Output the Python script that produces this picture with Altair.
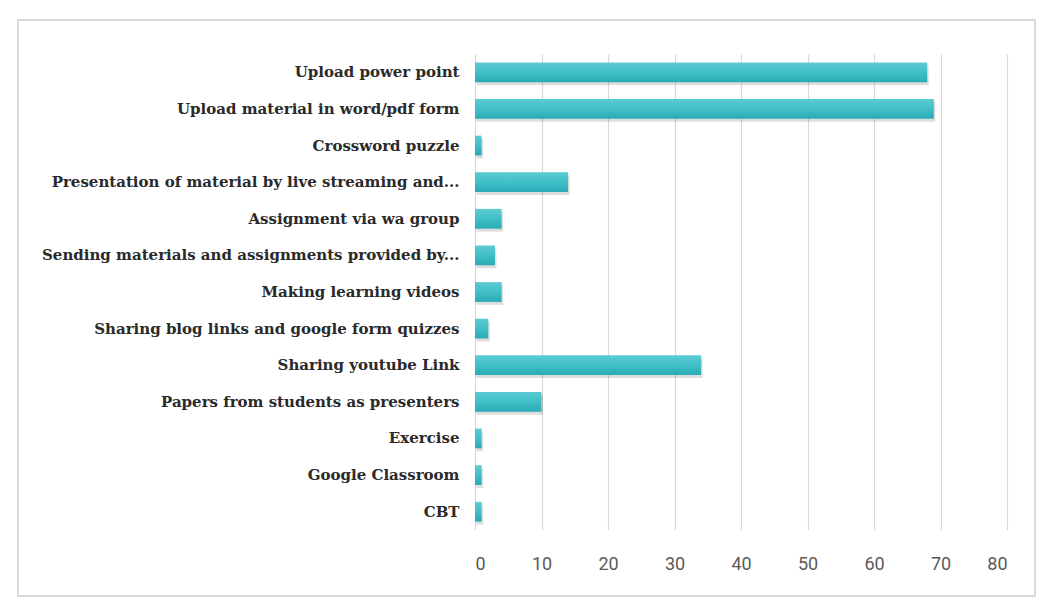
import altair as alt
import pandas as pd

categories = [
    "Upload power point",
    "Upload material in word/pdf form",
    "Crossword puzzle",
    "Presentation of material by live streaming and...",
    "Assignment via wa group",
    "Sending materials and assignments provided by...",
    "Making learning videos",
    "Sharing blog links and google form quizzes",
    "Sharing youtube Link",
    "Papers from students as presenters",
    "Exercise",
    "Google Classroom",
    "CBT",
]
values = [68, 69, 1, 14, 4, 3, 4, 2, 34, 10, 1, 1, 1]
x_ticks = [0, 10, 20, 30, 40, 50, 60, 70, 80]

df = pd.DataFrame({"category": categories, "value": values})

W, H = 532, 476

x_enc = alt.X(
    "value:Q",
    scale=alt.Scale(domain=[0, 80], nice=False),
    axis=alt.Axis(
        values=x_ticks,
        title=None,
        domain=False,
        ticks=False,
        grid=True,
        gridColor="#d9d9d9",
        gridWidth=1.2,
        labelFont="Liberation Sans Narrow, Roboto, sans-serif",
        labelFontSize=18,
        labelColor="#5a5a5a",
        labelPadding=25,
    ),
)
y_enc = alt.Y(
    "category:N",
    sort=categories,
    scale=alt.Scale(paddingInner=0.46, paddingOuter=0.23),
    axis=alt.Axis(
        title=None,
        domain=False,
        ticks=False,
        labelFont="DejaVu Serif",
        labelFontSize=15,
        labelFontWeight="bold",
        labelColor="#2a2a2a",
        labelPadding=16,
        labelLimit=600,
    ),
)

base = alt.Chart(df)

frame = base.mark_rect(fill=None, stroke="#d9d9d9", strokeWidth=2).encode(
    x=alt.value(-457), x2=alt.value(560), y=alt.value(-34), y2=alt.value(542)
).transform_filter(alt.datum.category == "CBT")

shadow = base.mark_bar(color="#000000", opacity=0.13, xOffset=1.5, yOffset=3).encode(
    x=x_enc, y=y_enc
)

bars = base.mark_bar(
    color=alt.Gradient(
        gradient="linear",
        x1=0, x2=0, y1=0, y2=1,
        stops=[
            alt.GradientStop(color="#5ccbd2", offset=0),
            alt.GradientStop(color="#40bfc8", offset=0.5),
            alt.GradientStop(color="#2aaab4", offset=1),
        ],
    )
).encode(x=x_enc, y=y_enc)

chart = (
    alt.layer(frame, shadow, bars)
    .properties(
        width=W,
        height=H,
        autosize=alt.AutoSizeParams(type="none"),
        padding={"left": 467, "top": 46, "right": 30, "bottom": 68},
        background="#ffffff",
    )
    .configure_view(stroke=None)
)

chart.save("out.html", embed_options={"renderer": "svg", "actions": False})
